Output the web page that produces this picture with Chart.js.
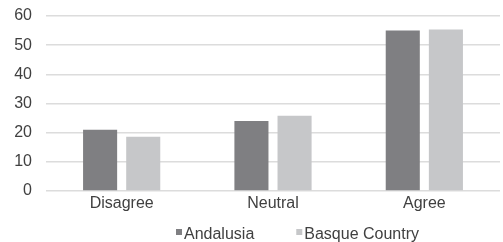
<!DOCTYPE html>
<html>
<head>
<meta charset="utf-8">
<script src="https://cdn.jsdelivr.net/npm/chart.js@4"></script>
<style>
  html, body { margin: 0; padding: 0; background: #fff; }
  #wrap { width: 503px; height: 242px; position: relative; }
</style>
</head>
<body>
<div id="wrap"><canvas id="opinionChart"></canvas></div>
<script>
const categories = ['Disagree', 'Neutral', 'Agree'];
const andalusia = [21, 24, 55];
const basqueCountry = [18.6, 25.8, 55.4];
const yTicks = [0, 10, 20, 30, 40, 50, 60];

const textColor = '#404040';
const fontFamily = '"Liberation Sans", Arial, sans-serif';

// small legend drawn by hand: square, tight gap, text
const bottomLegend = {
  id: 'bottomLegend',
  afterDraw(chart) {
    const c = chart.ctx;
    c.save();
    c.font = '16px ' + fontFamily;
    c.textBaseline = 'alphabetic';
    let x = 176;
    const baseline = 239;
    chart.data.datasets.forEach(ds => {
      c.fillStyle = ds.backgroundColor;
      c.fillRect(x, 229, 6, 6);
      c.fillStyle = textColor;
      c.fillText(ds.label, x + 8, baseline);
      x += 8 + c.measureText(ds.label).width + 42;
    });
    c.restore();
  }
};

const ctx = document.getElementById('opinionChart').getContext('2d');
const opinionChart = new Chart(ctx, {
  type: 'bar',
  data: {
    labels: categories,
    datasets: [{
      label: 'Andalusia',
      data: andalusia,
      backgroundColor: '#7f7f82',
      categoryPercentage: 0.57,
      barPercentage: 0.79
    }, {
      label: 'Basque Country',
      data: basqueCountry,
      backgroundColor: '#c6c7c9',
      categoryPercentage: 0.57,
      barPercentage: 0.79
    }]
  },
  options: {
    responsive: true,
    maintainAspectRatio: false,
    animation: false,
    layout: {
      padding: { top: 16, right: 3, left: 0, bottom: 27 }
    },
    scales: {
      x: {
        afterFit: (scale) => { scale.height = 24; },
        grid: { display: false, drawTicks: false },
        border: { display: false },
        ticks: {
          color: textColor,
          font: { family: fontFamily, size: 16 },
          padding: 3
        }
      },
      y: {
        min: 0,
        max: 60,
        afterFit: (scale) => {
          scale.width = 46;
          scale.paddingTop = 0;
          scale.paddingBottom = 0;
        },
        afterBuildTicks: (scale) => {
          scale.ticks = yTicks.map(v => ({ value: v }));
        },
        grid: {
          color: '#dcdcdc',
          lineWidth: 1.5,
          drawTicks: false
        },
        border: { display: false },
        ticks: {
          color: textColor,
          font: { family: fontFamily, size: 16 },
          padding: 14
        }
      }
    },
    plugins: {
      tooltip: { enabled: false },
      legend: { display: false }
    }
  },
  plugins: [bottomLegend]
});
</script>
</body>
</html>
